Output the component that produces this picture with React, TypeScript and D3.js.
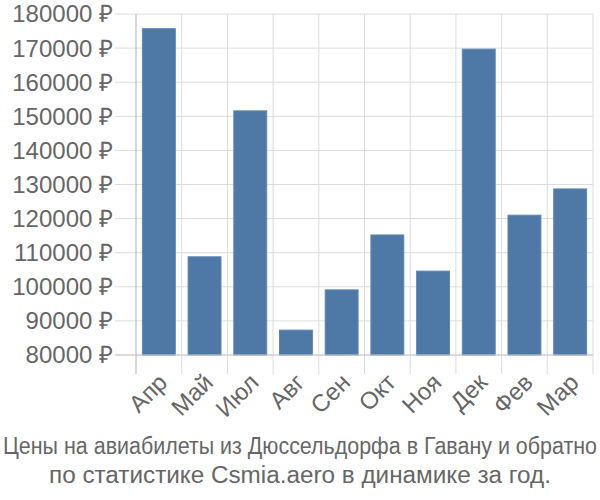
import React from "react";
import * as d3 from "d3";

const categories = ["Апр", "Май", "Июл", "Авг", "Сен", "Окт", "Ноя", "Дек", "Фев", "Мар"];
const values = [175700, 108800, 151600, 87300, 99100, 115200, 104600, 169700, 121000, 128700];
const yTicks = [80000, 90000, 100000, 110000, 120000, 130000, 140000, 150000, 160000, 170000, 180000];
const titleLines = [
  "Цены на авиабилеты из Дюссельдорфа в Гавану и обратно",
  "по статистике Csmia.aero в динамике за год.",
];

const W = 600, H = 500;
const left = 136, right = 593, top = 14, bottom = 355;
const font = "'Liberation Sans', Arial, sans-serif";

export default function App() {
  const x = d3.scaleBand<string>().domain(categories).range([left, right]).paddingInner(0.28).paddingOuter(0.14);
  const xb = d3.scaleBand<string>().domain(categories).range([left, right]);
  const y = d3.scaleLinear().domain([80000, 180000]).range([bottom, top]);
  const fmt = (v: number) => `${v} ₽`;
  return (
    <svg width={W} height={H} style={{ position: "absolute", left: 0, top: 0 }} fontFamily={font}>
      <rect width={W} height={H} fill="#fff" />
      {yTicks.map((t) => (
        <g key={t}>
          <line x1={115} x2={right} y1={y(t)} y2={y(t)} stroke="#dcdcdc" strokeWidth={1} />
          <text x={113} y={y(t)} dy="0.35em" textAnchor="end" fontSize={24} fill="#666">{fmt(t)}</text>
        </g>
      ))}
      {categories.map((c) => (
        <line key={c} x1={xb(c)! + xb.bandwidth()} x2={xb(c)! + xb.bandwidth()} y1={top} y2={374} stroke="#dcdcdc" strokeWidth={1} />
      ))}
      <line x1={left} x2={left} y1={top} y2={374} stroke="#b0b0b0" strokeWidth={1} />
      {categories.map((c, i) => (
        <rect key={c} x={x(c)} y={y(values[i])} width={x.bandwidth()} height={bottom - y(values[i])} fill="#4e79a7" stroke="#5d87b3" strokeWidth={1} />
      ))}
      <line x1={115} x2={right} y1={bottom} y2={bottom} stroke="#c8c8c8" strokeWidth={1} />
      {categories.map((c) => {
        const cx = xb(c)! + xb.bandwidth() / 2 + 4;
        const cy = 378;
        return (
          <text key={c} x={cx} y={cy} transform={`rotate(-45 ${cx} ${cy})`} textAnchor="end" fontSize={24} fill="#666" dy="0.35em">{c}</text>
        );
      })}
      {titleLines.map((l, i) => (
        <text key={i} x={W / 2} y={454 + i * 29} textAnchor="middle" fontSize={23} fill="#666" textLength={i === 0 ? 594 : 502} lengthAdjust="spacingAndGlyphs">{l}</text>
      ))}
    </svg>
  );
}
